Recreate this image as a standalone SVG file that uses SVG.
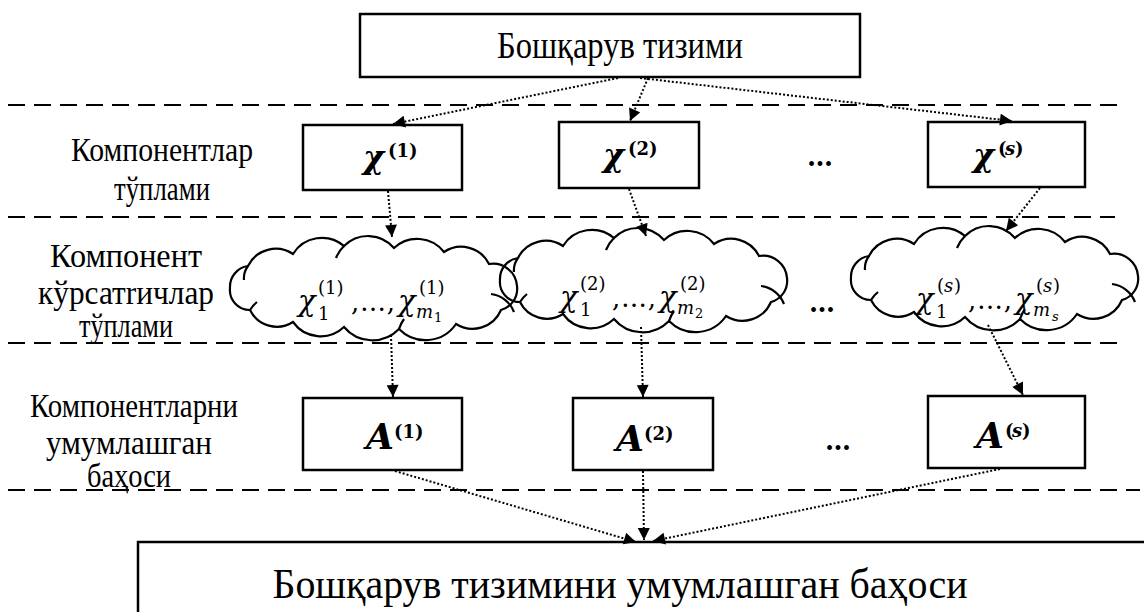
<svg xmlns="http://www.w3.org/2000/svg" width="1144" height="612" viewBox="0 0 1144 612">
<style>
.bg{fill:#fff}
.box{fill:#fff;stroke:#000;stroke-width:2.5}
.sep{stroke:#000;stroke-width:2;stroke-dasharray:17,9;fill:none}
.con{stroke:#000;stroke-width:2;stroke-dasharray:2,2;fill:none}
.cloud{fill:none;stroke:#000;stroke-width:2.2}
.ttl{text-anchor:middle;fill:#000}
.mi{font-family:"DejaVu Serif",serif;font-style:italic;fill:#000}
.mu{font-family:"DejaVu Serif",serif;fill:#000}
.b{font-weight:bold}
</style>
<defs>
<marker id="ah" viewBox="0 0 10 10" refX="10" refY="5" markerWidth="15" markerHeight="12" markerUnits="userSpaceOnUse" orient="auto">
<path d="M0,0 L10,5 L0,10 Z" fill="#000"/>
</marker>
<g id="cloudShape">
<path class="cloud" d="M15,52 A21,21 0 0,1 33,30 A31,31 0 0,1 78,18 A34,34 0 0,1 129,10 A34,34 0 0,1 179,12 A34,34 0 0,1 229,16 A31,31 0 0,1 274,28 A24,24 0 0,1 302,50 A22,22 0 0,1 286,74 A31,31 0 0,1 241,88 A37,37 0 0,1 184,93 A37,37 0 0,1 129,91 A34,34 0 0,1 78,86 A30,30 0 0,1 35,74 A20,20 0 0,1 15,52 Z"/>
<path class="cloud" d="M276,58 A28,28 0 0,1 299,76 M29,44 A20,20 0 0,1 33,30 M129,10 A34,34 0 0,0 121,22 M35,74 A30,30 0 0,1 42,66 M184,93 A37,37 0 0,1 189,83"/>
</g>
</defs>
<rect class="bg" x="0" y="0" width="1144" height="612"/>

<g id="separators">
<line class="sep" x1="8" y1="105" x2="1120" y2="105"/>
<line class="sep" x1="8" y1="217" x2="1115" y2="217"/>
<line class="sep" x1="8" y1="343" x2="1125" y2="343"/>
<line class="sep" x1="8" y1="490" x2="1140" y2="490"/>
</g>

<g id="rowLabels" font-family="Liberation Serif, serif" font-size="33" text-anchor="middle" fill="#000">
<text x="162" y="161" textLength="182" lengthAdjust="spacingAndGlyphs">Компонентлар</text>
<text x="162" y="200" textLength="96" lengthAdjust="spacingAndGlyphs">тўплами</text>
<text x="126" y="267" textLength="152" lengthAdjust="spacingAndGlyphs">Компонент</text>
<text x="126" y="304" textLength="176" lengthAdjust="spacingAndGlyphs">кўрсатrичлар</text>
<text x="126" y="337" textLength="94" lengthAdjust="spacingAndGlyphs">тўплами</text>
<text x="134" y="417" textLength="208" lengthAdjust="spacingAndGlyphs">Компонентларни</text>
<text x="129" y="454" textLength="166" lengthAdjust="spacingAndGlyphs">умумлашган</text>
<text x="129" y="487" textLength="84" lengthAdjust="spacingAndGlyphs">баҳоси</text>
</g>

<g id="top" font-family="Liberation Serif, serif">
<rect class="box" x="360" y="14" width="500" height="63"/>
<text class="ttl" x="620" y="58" font-size="38" textLength="246" lengthAdjust="spacingAndGlyphs">Бошқарув тизими</text>
</g>

<g id="x1">
<rect class="box" x="303" y="125" width="159" height="65"/>
<text class="mi b" x="363" y="168" font-size="32">χ</text>
<text class="mu b" x="388" y="157" font-size="18">(1)</text>
</g>
<g id="x2">
<rect class="box" x="559" y="122" width="140" height="66"/>
<text class="mi b" x="603" y="166" font-size="32">χ</text>
<text class="mu b" x="628" y="155" font-size="18">(2)</text>
</g>
<g id="xs">
<rect class="box" x="928" y="122" width="157" height="65"/>
<text class="mi b" x="973" y="166" font-size="32">χ</text>
<text class="mu b" x="998" y="155" font-size="18">(</text>
<text class="mi b" x="1005" y="155" font-size="18">s</text>
<text class="mu b" x="1015" y="155" font-size="18">)</text>
</g>
<g id="dots1"><text class="mu b" x="820" y="166" font-size="26" text-anchor="middle">…</text></g>

<g id="c1">
<use href="#cloudShape" x="215" y="236"/>
<text class="mi" x="298" y="311" font-size="29">χ</text>
<text class="mu" x="318" y="294" font-size="18">(1)</text>
<text class="mu" x="318" y="320" font-size="18">1</text>
<text class="mu" x="351" y="311" font-size="26" textLength="44" lengthAdjust="spacing">, … ,</text>
<text class="mi" x="398" y="311" font-size="29">χ</text>
<text class="mu" x="419" y="294" font-size="18">(1)</text>
<text class="mi" x="416" y="318" font-size="18">m</text>
<text class="mu" x="434" y="322" font-size="13">1</text>
</g>
<g id="c2">
<use href="#cloudShape" x="485" y="228"/>
<text class="mi" x="560" y="307" font-size="29">χ</text>
<text class="mu" x="580" y="290" font-size="18">(2)</text>
<text class="mu" x="580" y="316" font-size="18">1</text>
<text class="mu" x="612" y="307" font-size="26" textLength="44" lengthAdjust="spacing">, … ,</text>
<text class="mi" x="659" y="307" font-size="29">χ</text>
<text class="mu" x="680" y="290" font-size="18">(2)</text>
<text class="mi" x="677" y="314" font-size="18">m</text>
<text class="mu" x="695" y="318" font-size="13">2</text>
</g>
<g id="cs">
<use href="#cloudShape" x="836" y="226"/>
<text class="mi" x="916" y="309" font-size="29">χ</text>
<text class="mu" x="937" y="292" font-size="18">(</text>
<text class="mi" x="944" y="292" font-size="18">s</text>
<text class="mu" x="954" y="292" font-size="18">)</text>
<text class="mu" x="936" y="318" font-size="18">1</text>
<text class="mu" x="968" y="309" font-size="26" textLength="44" lengthAdjust="spacing">, … ,</text>
<text class="mi" x="1015" y="309" font-size="29">χ</text>
<text class="mu" x="1036" y="292" font-size="18">(</text>
<text class="mi" x="1043" y="292" font-size="18">s</text>
<text class="mu" x="1053" y="292" font-size="18">)</text>
<text class="mi" x="1033" y="316" font-size="18">m</text>
<text class="mi" x="1052" y="321" font-size="13">s</text>
</g>
<g id="dots2"><text class="mu b" x="822" y="312" font-size="26" text-anchor="middle">…</text></g>

<g id="a1">
<rect class="box" x="303" y="398" width="159" height="72"/>
<text class="mi b" x="366" y="449" font-size="36">A</text>
<text class="mu b" x="394" y="438" font-size="18">(1)</text>
</g>
<g id="a2">
<rect class="box" x="573" y="398" width="140" height="72"/>
<text class="mi b" x="616" y="451" font-size="36">A</text>
<text class="mu b" x="644" y="440" font-size="18">(2)</text>
</g>
<g id="as">
<rect class="box" x="928" y="396" width="157" height="72"/>
<text class="mi b" x="976" y="448" font-size="36">A</text>
<text class="mu b" x="1005" y="437" font-size="18">(</text>
<text class="mi b" x="1012" y="437" font-size="18">s</text>
<text class="mu b" x="1022" y="437" font-size="18">)</text>
</g>
<g id="dots3"><text class="mu b" x="838" y="450" font-size="26" text-anchor="middle">…</text></g>

<g id="bottom" font-family="Liberation Serif, serif">
<rect class="box" x="138" y="542" width="1040" height="90"/>
<text class="ttl" x="620" y="598" font-size="42" textLength="695" lengthAdjust="spacingAndGlyphs">Бошқарув тизимини умумлашган баҳоси</text>
</g>

<g id="connectors">
<line class="con" x1="618" y1="78" x2="393" y2="124" marker-end="url(#ah)"/>
<line class="con" x1="648" y1="78" x2="630" y2="121" marker-end="url(#ah)"/>
<line class="con" x1="640" y1="78" x2="1012" y2="121" marker-end="url(#ah)"/>
<line class="con" x1="388" y1="191" x2="392" y2="237" marker-end="url(#ah)"/>
<line class="con" x1="629" y1="189" x2="646" y2="236" marker-end="url(#ah)"/>
<line class="con" x1="1040" y1="188" x2="1006" y2="231" marker-end="url(#ah)"/>
<line class="con" x1="391" y1="335" x2="393" y2="397" marker-end="url(#ah)"/>
<line class="con" x1="641" y1="327" x2="643" y2="397" marker-end="url(#ah)"/>
<line class="con" x1="988" y1="325" x2="1023" y2="395" marker-end="url(#ah)"/>
<line class="con" x1="395" y1="471" x2="636" y2="542" marker-end="url(#ah)"/>
<line class="con" x1="643" y1="471" x2="644" y2="540" marker-end="url(#ah)"/>
<line class="con" x1="1000" y1="469" x2="653" y2="541" marker-end="url(#ah)"/>
</g>
</svg>
